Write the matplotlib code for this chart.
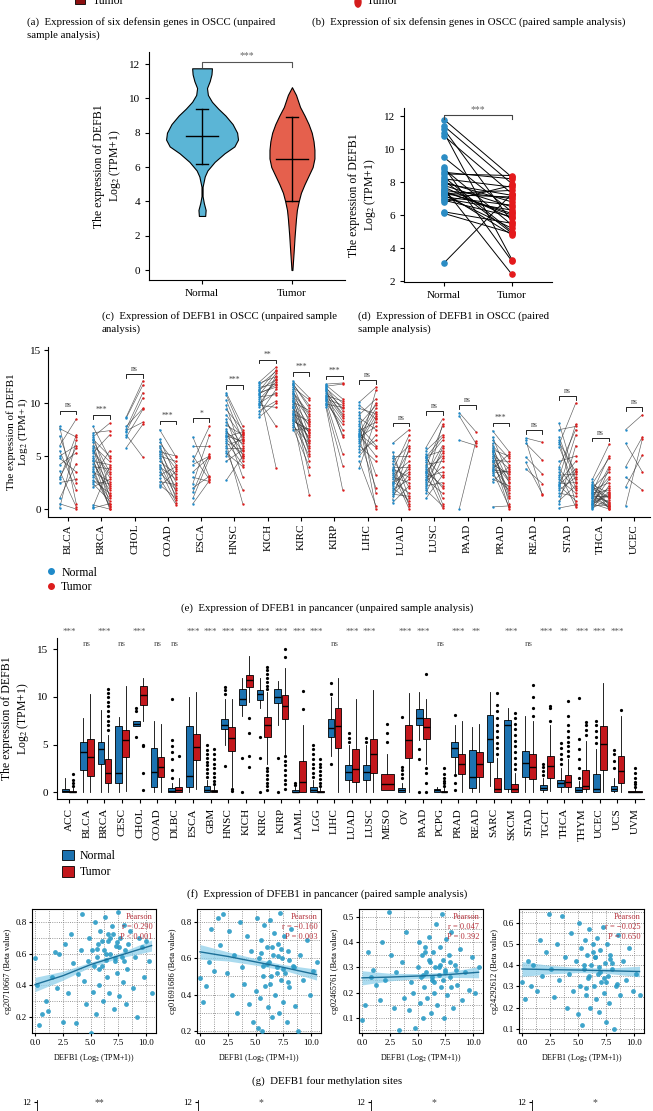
import matplotlib
matplotlib.use("Agg")
import matplotlib.pyplot as plt
from matplotlib.patches import Patch, Rectangle
from matplotlib.lines import Line2D
from matplotlib.ticker import AutoMinorLocator

plt.rcParams['font.family'] = ['Liberation Serif', 'DejaVu Serif']
plt.rcParams['mathtext.fontset'] = 'stix'
plt.rcParams['axes.linewidth'] = 0.8

# ---------------- data ----------------
# (c) violin outline: y value and half width
vio_y_normal = [3.15, 3.5, 3.9, 4.3, 4.85, 5.45, 5.8, 6.3, 6.8, 7.2, 7.6, 8.0, 8.5, 9.0, 9.4, 9.8, 10.2, 10.6, 11.0, 11.4, 11.75]
vio_w_normal = [0.035, 0.04, 0.02, 0.006, 0.006, 0.03, 0.06, 0.14, 0.25, 0.36, 0.40, 0.39, 0.34, 0.26, 0.18, 0.11, 0.065, 0.055, 0.085, 0.105, 0.11]
vio_y_tumor = [0.0, 1.0, 2.0, 3.0, 3.5, 4.0, 4.5, 5.0, 5.5, 6.0, 6.5, 7.0, 7.5, 8.0, 8.5, 9.0, 9.5, 10.2, 10.65]
vio_w_tumor = [0.005, 0.018, 0.03, 0.045, 0.055, 0.075, 0.10, 0.14, 0.185, 0.23, 0.25, 0.25, 0.24, 0.22, 0.185, 0.14, 0.09, 0.045, 0.0]
c_mean = [7.78, 6.45]
c_sd_lo = [6.18, 4.0]
c_sd_hi = [9.37, 8.9]

# (d) paired OSCC samples
d_normal = [11.8, 11.4, 11.2, 11.0, 10.8, 9.5, 8.9, 8.8, 8.5, 8.3, 8.2, 8.1, 8.0, 7.9, 7.8, 7.7,
            7.6, 7.5, 7.4, 7.35, 7.3, 7.2, 7.1, 7.0, 6.9, 6.8, 6.2, 6.1, 3.1, 8.6, 7.45, 7.25]
d_tumor = [8.3, 7.9, 5.6, 3.3, 7.3, 6.2, 3.2, 5.4, 8.4, 5.0, 7.7, 4.9, 6.8, 7.2, 6.5, 5.8,
           2.4, 7.0, 6.1, 4.8, 7.5, 5.2, 6.6, 6.3, 5.9, 7.8, 5.5, 4.9, 7.3, 8.2, 6.0, 7.1]

# (e) pancancer paired values
e_cancers = ['BLCA', 'BRCA', 'CHOL', 'COAD', 'ESCA', 'HNSC', 'KICH', 'KIRC', 'KIRP',
             'LIHC', 'LUAD', 'LUSC', 'PAAD', 'PRAD', 'READ', 'STAD', 'THCA', 'UCEC']
e_normal = [
    [7.8, 7.6, 6.9, 6.0, 5.0, 4.8, 3.6, 3.0, 2.8, 2.5, 1.0, 0.5, 0.1, 5.5, 4.2],
    [7.8, 7.2, 7.0, 6.8, 6.5, 6.3, 6.0, 5.8, 5.5, 5.3, 5.0, 4.8, 4.5, 4.3, 4.0, 3.8, 3.5, 3.2, 3.0, 2.7, 2.4, 2.1, 0.4, 0.2, 0.1, 6.6, 5.6, 4.6, 3.6, 2.6],
    [8.7, 8.6, 7.8, 7.6, 7.4, 7.3, 7.0, 6.8, 5.8],
    [7.5, 6.6, 6.3, 6.0, 5.8, 5.5, 5.2, 5.0, 4.8, 4.5, 4.2, 4.0, 3.8, 3.5, 3.2, 2.9, 2.6, 2.3, 2.1, 5.4],
    [6.8, 6.0, 5.0, 4.5, 4.2, 3.5, 3.0, 2.4, 2.0, 1.6, 1.0, 0.5],
    [11.0, 10.8, 10.3, 9.8, 9.4, 8.9, 8.5, 8.2, 7.9, 7.6, 7.4, 7.2, 7.0, 6.8, 6.6, 6.4, 6.2, 6.0, 5.8, 5.5, 5.3, 5.0, 4.5, 2.7, 6.9],
    [12.0, 11.9, 11.7, 11.5, 11.3, 11.1, 11.0, 10.8, 10.6, 10.4, 10.2, 10.0, 9.8, 9.6, 9.3, 9.0, 8.7, 11.2, 10.9, 9.9],
    [12.1, 11.9, 11.7, 11.5, 11.3, 11.1, 10.9, 10.7, 10.5, 10.3, 10.1, 9.9, 9.7, 9.5, 9.3, 9.1, 8.9, 8.7, 8.5, 8.3, 8.1, 7.9, 7.7, 7.5, 11.8, 11.0, 10.2, 9.6, 9.0, 8.4],
    [11.8, 11.7, 11.6, 11.4, 11.2, 11.0, 10.8, 10.6, 10.4, 10.2, 10.0, 9.8, 9.6, 11.5, 11.1, 10.7, 10.3, 9.9, 11.3, 10.5],
    [10.1, 9.8, 9.5, 9.2, 8.9, 8.6, 8.3, 8.0, 7.8, 7.6, 7.4, 7.2, 7.0, 6.8, 6.6, 6.4, 6.2, 6.0, 5.7, 5.4, 5.0, 4.5, 3.9, 7.1, 6.9],
    [6.2, 5.4, 5.0, 4.8, 4.5, 4.3, 4.0, 3.8, 3.6, 3.4, 3.2, 3.0, 2.8, 2.6, 2.4, 2.2, 2.0, 1.8, 1.6, 1.4, 1.2, 0.9, 0.6, 3.7, 2.5],
    [5.8, 5.5, 5.2, 5.0, 4.8, 4.6, 4.4, 4.2, 4.0, 3.8, 3.6, 3.4, 3.2, 3.0, 2.8, 2.6, 2.4, 2.2, 2.0, 1.8, 1.5, 1.0, 4.9, 3.5, 2.7],
    [9.1, 8.8, 6.5, 0.0],
    [7.4, 6.8, 6.5, 6.2, 6.0, 5.8, 5.6, 5.4, 5.2, 5.0, 4.8, 4.6, 4.4, 4.2, 4.0, 3.8, 3.6, 3.4, 3.2, 2.8, 2.6, 0.2, 5.5, 4.5, 3.7],
    [6.7, 6.2, 4.9, 4.4, 3.8, 6.5],
    [8.1, 7.5, 6.5, 6.3, 6.1, 5.9, 4.5, 4.0, 3.5, 3.2, 3.0, 2.8, 2.6, 2.4, 2.2, 2.0, 1.8, 1.5, 1.2, 0.8, 0.5, 0.1, 6.8, 3.8, 2.3],
    [2.8, 2.6, 2.4, 2.3, 2.2, 2.0, 1.9, 1.8, 1.7, 1.6, 1.5, 1.4, 1.3, 1.2, 1.1, 1.0, 0.9, 0.8, 0.7, 0.6, 0.5, 0.4, 0.3, 0.2, 0.1, 0.0, 2.1, 1.5, 1.0, 0.5],
    [7.5, 6.2, 4.0, 3.0, 2.1, 0.3],
]
e_tumor = [
    [0.5, 6.8, 2.5, 8.5, 6.0, 3.5, 0.2, 5.8, 7.0, 2.8, 4.3, 0.0, 6.5, 1.8, 5.3],
    [4.8, 7.4, 2.0, 8.1, 3.5, 1.2, 4.5, 0.5, 3.0, 7.0, 2.2, 0.0, 4.2, 1.8, 3.8, 0.3, 2.6, 1.0, 5.5, 1.5, 0.8, 2.8, 0.0, 4.0, 0.5, 5.0, 3.3, 1.3, 0.2, 2.4],
    [12.1, 11.7, 9.5, 11.0, 8.2, 10.5, 4.9, 9.4, 8.0],
    [4.9, 3.0, 4.2, 1.5, 3.8, 2.5, 0.9, 4.5, 2.0, 3.3, 1.2, 2.8, 0.6, 1.8, 4.0, 0.4, 2.3, 1.0, 3.6, 5.0],
    [3.0, 6.0, 2.8, 7.8, 5.0, 4.9, 2.6, 7.0, 3.1, 5.2, 4.8, 2.7],
    [7.8, 7.2, 6.5, 5.0, 7.5, 6.8, 4.5, 6.0, 7.0, 3.0, 5.5, 6.2, 4.8, 7.3, 5.2, 4.2, 0.5, 6.6, 5.8, 1.8, 4.0, 7.1, 5.6, 5.0, 6.4],
    [13.4, 12.5, 13.0, 11.8, 12.2, 3.9, 11.5, 12.8, 10.8, 12.0, 7.8, 11.0, 9.6, 12.6, 10.2, 11.3, 10.0, 13.1, 11.7, 12.3],
    [10.5, 9.5, 8.2, 10.3, 7.0, 9.0, 6.0, 8.5, 5.2, 7.8, 9.3, 3.2, 6.5, 8.0, 4.5, 7.2, 5.8, 1.3, 6.8, 7.5, 5.0, 6.2, 4.0, 7.6, 9.8, 8.8, 6.4, 5.5, 8.3, 7.3],
    [11.9, 10.4, 11.8, 10.0, 9.5, 9.0, 8.6, 7.0, 9.8, 5.2, 8.0, 4.1, 1.8, 9.3, 8.8, 10.2, 7.5, 9.6, 6.8, 8.3],
    [11.5, 8.5, 9.0, 1.5, 10.4, 7.5, 0.0, 9.8, 6.0, 3.2, 8.2, 10.0, 5.0, 7.8, 2.0, 9.2, 8.8, 4.5, 11.2, 6.5, 7.0, 0.3, 8.6, 5.8, 9.5],
    [7.5, 1.0, 5.0, 2.0, 6.0, 0.3, 4.0, 3.0, 7.0, 0.0, 4.5, 2.5, 5.5, 1.5, 3.5, 6.5, 0.8, 2.8, 4.2, 1.2, 3.3, 5.8, 2.2, 0.5, 3.8],
    [8.5, 7.0, 1.0, 5.5, 3.0, 6.5, 0.5, 4.5, 7.8, 2.0, 5.0, 0.1, 6.0, 3.5, 1.5, 4.0, 8.0, 2.5, 5.8, 0.3, 4.8, 3.2, 6.8, 2.2, 5.3],
    [7.3, 6.2, 6.0, 6.4],
    [5.4, 3.0, 4.8, 0.5, 4.2, 2.5, 5.0, 1.5, 3.8, 0.0, 2.8, 4.5, 1.0, 3.3, 2.0, 5.2, 0.2, 3.6, 1.8, 2.2, 4.0, 0.3, 1.2, 2.6, 3.5],
    [6.3, 4.6, 3.3, 1.4, 2.4, 1.3],
    [2.8, 7.8, 0.5, 3.5, 10.0, 2.0, 5.0, 7.5, 0.2, 3.3, 8.0, 1.5, 4.5, 2.5, 0.8, 7.0, 3.0, 1.2, 3.6, 2.2, 6.0, 0.4, 2.6, 1.8, 3.8],
    [6.1, 0.3, 4.8, 1.5, 0.0, 3.5, 1.0, 2.5, 0.5, 5.0, 1.8, 0.1, 3.0, 1.2, 0.7, 4.0, 2.0, 0.2, 1.4, 2.8, 0.0, 1.6, 0.4, 3.8, 0.9, 2.2, 1.1, 0.6, 0.3, 1.3],
    [8.9, 3.5, 6.8, 1.8, 5.1, 6.6],
]
e_bracket_y = [9.3, 8.85, 12.75, 8.35, 8.55, 11.7, 14.1, 12.95, 12.6, 12.15, 8.15, 9.25, 9.8, 8.15, 7.45, 10.65, 6.75, 9.6]
e_sig = ['ns', '***', 'ns', '***', '*', '***', '**', '***', '***', 'ns', 'ns', 'ns', 'ns', '***', 'ns', 'ns', 'ns', 'ns']

# (f) pancancer box statistics (lo whisker, q1, median, q3, hi whisker)
f_cancers = ['ACC', 'BLCA', 'BRCA', 'CESC', 'CHOL', 'COAD', 'DLBC', 'ESCA', 'GBM', 'HNSC', 'KICH',
             'KIRC', 'KIRP', 'LAML', 'LGG', 'LIHC', 'LUAD', 'LUSC', 'MESO', 'OV', 'PAAD', 'PCPG',
             'PRAD', 'READ', 'SARC', 'SKCM', 'STAD', 'TGCT', 'THCA', 'THYM', 'UCEC', 'UCS', 'UVM']
f_normal_box = [
    (0, 0.05, 0.15, 0.35, 1.5), (0, 2.3, 4.2, 5.3, 7.8), (0, 3.0, 4.5, 5.3, 8.6), (0, 1.0, 2.0, 6.9, 7.9),
    (6.9, 6.9, 7.2, 7.5, 7.5), (0, 0.5, 2.1, 4.6, 7.5), (0, 0.0, 0.15, 0.45, 1.0), (0, 0.5, 1.7, 6.9, 10.0),
    (0, 0.0, 0.2, 0.6, 1.3), (5.0, 6.6, 7.0, 7.7, 9.8), (8.0, 9.2, 9.8, 10.8, 12.0), (8.8, 9.7, 10.3, 10.7, 12.0),
    (7.0, 9.4, 10.0, 10.8, 11.7), (0, 0.0, 0.05, 0.25, 0.5), (0, 0.0, 0.2, 0.5, 1.3), (3.8, 5.8, 6.7, 7.7, 10.0),
    (0, 1.3, 2.1, 2.8, 5.0), (0, 1.3, 2.1, 2.8, 5.0), None, (0, 0.0, 0.2, 0.4, 1.0),
    (5.5, 7.0, 7.8, 8.7, 10.5), (0, 0.0, 0.2, 0.35, 0.5), (2.0, 3.7, 4.6, 5.3, 7.0), (0, 0.4, 1.6, 4.4, 6.8),
    (0.6, 3.2, 5.6, 8.1, 10.5), (0, 0.35, 7.1, 7.6, 8.8), (0, 1.6, 3.1, 4.3, 8.0), (0, 0.2, 0.45, 0.7, 1.5),
    (0, 0.5, 1.0, 1.3, 2.5), (0, 0.0, 0.25, 0.5, 1.2), (0, 0.05, 0.35, 1.9, 4.5), (0, 0.15, 0.35, 0.65, 1.5), None]
f_normal_out = [
    [], [], [], [], [8.8, 8.5, 5.8], [], [1.5, 2.3, 3.5, 4.2, 4.8, 5.5, 9.8], [],
    [1.6, 2.0, 2.4, 2.8, 3.2, 3.6, 4.0, 4.4, 5.0], [10.3, 10.7, 11.0, 2.7], [3.6, 0.0], [5.8, 3.6, 0.0],
    [3.6, 0.0], [0.7, 0.9], [1.6, 2.0, 2.5, 3.0, 3.5, 4.0, 4.5, 5.0], [11.5, 10.3, 3.0],
    [5.3, 5.7, 6.2], [5.3, 5.7], [], [1.5, 1.9, 2.3, 2.6, 7.9], [4.5, 3.5, 0.0], [],
    [8.1, 1.8, 1.0, 0.2], [], [], [], [], [1.8, 2.2, 2.6, 3.0], [3.0, 3.5, 4.0, 4.6, 5.2],
    [1.5, 2.5, 3.5, 4.5, 5.6, 9.9], [5.2, 5.8, 6.4, 7.0, 7.5], [2.5, 3.3, 4.0, 4.4], []]
f_tumor_box = [
    (0, 0.0, 0.05, 0.15, 0.4), (0, 1.7, 3.7, 5.6, 10.3), (0, 0.9, 2.0, 3.5, 6.0), (0.1, 3.7, 5.5, 6.5, 11.1),
    (7.5, 9.2, 10.2, 11.2, 12.0), (0, 1.6, 2.6, 3.7, 7.2), (0, 0.05, 0.2, 0.5, 1.5), (0.3, 3.4, 4.7, 6.1, 10.5),
    (0, 0.0, 0.1, 0.25, 0.6), (0.5, 4.3, 5.7, 6.8, 9.8), (9.5, 11.0, 11.8, 12.3, 14.3), (3.0, 5.8, 7.0, 7.9, 10.5),
    (4.0, 7.7, 9.1, 10.2, 13.0), (0, 0.0, 1.05, 3.3, 7.0), (0, 0.0, 0.05, 0.15, 0.4), (0, 4.6, 6.9, 8.8, 12.0),
    (0, 1.05, 2.4, 4.5, 9.8), (0, 2.0, 4.0, 5.6, 10.7), (0.2, 0.2, 0.8, 1.9, 4.0), (0, 3.6, 5.5, 7.1, 10.4),
    (3.0, 5.6, 6.8, 7.8, 9.8), (0, 0.0, 0.05, 0.15, 0.4), (0, 1.9, 3.0, 4.0, 7.5), (0, 1.6, 2.9, 4.2, 7.2),
    (0, 0.0, 0.35, 1.5, 3.6), (0, 0.05, 0.3, 0.8, 2.0), (0, 1.4, 2.6, 4.0, 7.5), (0.1, 1.5, 2.7, 3.8, 7.0),
    (0, 0.5, 1.1, 1.8, 3.5), (0, 0.3, 0.65, 2.35, 5.4), (0, 2.35, 5.1, 6.9, 11.5), (0, 0.95, 2.25, 3.8, 8.0),
    (0, 0.0, 0.05, 0.15, 0.4)]
f_tumor_out = [
    [0.6, 0.9, 1.3, 1.9], [], [6.5, 7.0, 7.5, 8.0, 8.5, 9.0, 9.5, 10.0, 10.4, 10.8], [],
    [5.0, 4.8, 2.0, 0.2], [], [3.8], [], [0.8, 1.2, 1.6, 2.0, 2.5, 3.0, 3.5, 4.0, 4.5], [0.1, 0.3],
    [7.8, 6.2, 3.8, 2.6], [10.8, 11.2, 11.6, 12.0, 12.4, 12.8, 13.2, 0.2, 0.6, 1.0, 1.4, 1.8, 2.2, 2.5],
    [14.2, 15.0, 0.3, 0.8, 1.3, 1.8, 2.3, 2.8, 3.3, 3.8], [8.7, 10.6], [0.6, 1.0, 1.4, 1.8, 2.2, 2.6, 3.0, 3.5],
    [], [], [], [5.3, 6.2, 7.2], [], [12.4, 2.5, 2.0, 1.0, 0.0], [0.6, 0.9, 1.2, 1.5, 1.9, 2.5], [], [],
    [4.0, 4.6, 5.2, 5.8, 6.4, 7.0, 7.8, 8.5, 9.2, 10.4], [2.4, 3.0, 3.6, 4.2, 4.8, 5.4, 6.0, 6.6, 7.2, 7.8, 8.3],
    [8.0, 8.8, 10.0, 11.3], [7.5, 8.8, 9.0], [3.8, 4.3, 4.8, 5.3, 5.8, 6.4, 7.0, 8.0, 9.6], [6.0, 6.5, 7.0, 7.4],
    [], [8.6], [0.5, 0.8, 1.1, 1.5, 2.0, 2.5]]
f_sig = ['***', 'ns', '***', 'ns', '***', 'ns', 'ns', '***', '***', '***', '***', '***', '***', '***', '***',
         'ns', '***', '***', '', '***', '***', 'ns', '***', '**', '', '***', 'ns', '***', '**', '***', '***', '***', '']

# (g) methylation sites vs DEFB1
g_sites = ['cg20710667', 'cg01691686', 'cg02465761', 'cg24292612']
g_r = ['0.290', '\u22120.160', '0.047', '\u22120.025']
g_p = ['< 0.001', '= 0.003', '= 0.392', '= 0.650']
s1_x = [0.0, 0.2, 0.4, 0.6, 1.0, 1.2, 1.5, 1.8, 2.0, 2.2, 2.5, 2.7, 3.0, 3.2, 3.4, 3.7, 3.9, 4.1, 4.2, 4.4,
        4.6, 4.8, 4.9, 5.0, 5.1, 5.2, 5.3, 5.4, 5.5, 5.6, 5.7, 5.8, 5.9, 6.0, 6.1, 6.2, 6.3, 6.4, 6.5, 6.6,
        6.7, 6.8, 6.9, 7.0, 7.1, 7.2, 7.3, 7.4, 7.5, 7.6, 7.7, 7.8, 7.9, 8.0, 8.1, 8.2, 8.3, 8.4, 8.6, 8.8,
        9.0, 9.2, 9.4, 9.6, 9.8, 10.0, 10.3, 10.5, 5.6, 6.0, 6.4, 6.8, 7.2, 7.6, 8.0, 5.8, 6.6, 7.4]
s1_y = [0.57, 0.40, 0.15, 0.22, 0.30, 0.24, 0.45, 0.61, 0.38, 0.60, 0.17, 0.66, 0.35, 0.72, 0.54, 0.16, 0.47, 0.62, 0.85, 0.43,
        0.28, 0.55, 0.70, 0.10, 0.62, 0.36, 0.52, 0.80, 0.22, 0.58, 0.66, 0.40, 0.74, 0.52, 0.30, 0.62, 0.83, 0.56, 0.45, 0.68,
        0.35, 0.60, 0.77, 0.72, 0.25, 0.55, 0.65, 0.48, 0.86, 0.33, 0.70, 0.58, 0.42, 0.78, 0.62, 0.28, 0.50, 0.66, 0.74, 0.38,
        0.58, 0.20, 0.70, 0.64, 0.45, 0.68, 0.55, 0.35, 0.63, 0.68, 0.60, 0.70, 0.57, 0.64, 0.55, 0.50, 0.72, 0.67]
s2_x = [0.0, 0.3, 0.5, 0.8, 1.0, 1.3, 1.6, 1.8, 2.1, 2.4, 2.6, 2.9, 3.1, 3.3, 3.6, 3.8, 4.0, 4.2, 4.4, 4.6,
        4.8, 5.0, 5.1, 5.2, 5.3, 5.4, 5.5, 5.6, 5.7, 5.8, 5.9, 6.0, 6.1, 6.2, 6.3, 6.4, 6.5, 6.6, 6.7, 6.8,
        6.9, 7.0, 7.1, 7.2, 7.3, 7.4, 7.5, 7.6, 7.7, 7.8, 7.9, 8.0, 8.2, 8.4, 8.6, 8.8, 9.0, 9.3, 9.6, 9.9,
        10.2, 10.5, 5.5, 6.0, 6.5, 7.0, 7.5, 8.0, 5.7, 6.3, 6.9, 7.3, 7.9, 8.5]
s2_y = [0.49, 0.36, 0.45, 0.58, 0.76, 0.53, 0.82, 0.67, 0.84, 0.52, 0.75, 0.40, 0.62, 0.30, 0.80, 0.55, 0.46, 0.72, 0.35, 0.64,
        0.25, 0.42, 0.82, 0.22, 0.60, 0.38, 0.70, 0.20, 0.56, 0.78, 0.45, 0.66, 0.33, 0.58, 0.81, 0.50, 0.28, 0.62, 0.74, 0.40,
        0.55, 0.68, 0.30, 0.85, 0.48, 0.60, 0.36, 0.72, 0.52, 0.25, 0.64, 0.44, 0.76, 0.56, 0.34, 0.20, 0.62, 0.48, 0.70, 0.40,
        0.53, 0.58, 0.63, 0.57, 0.66, 0.61, 0.54, 0.59, 0.50, 0.46, 0.52, 0.65, 0.47, 0.55]
s3_y = [0.09, 0.15, 0.36, 0.26, 0.29, 0.23, 0.17, 0.40, 0.25, 0.52, 0.35, 0.14, 0.28, 0.05, 0.32, 0.18, 0.44, 0.13, 0.24, 0.20,
        0.06, 0.30, 0.40, 0.16, 0.26, 0.35, 0.10, 0.22, 0.38, 0.28, 0.18, 0.42, 0.32, 0.12, 0.25, 0.36, 0.20, 0.30, 0.47, 0.15,
        0.27, 0.38, 0.22, 0.51, 0.33, 0.10, 0.29, 0.41, 0.19, 0.35, 0.26, 0.44, 0.14, 0.31, 0.23, 0.37, 0.17, 0.28, 0.21, 0.34,
        0.20, 0.30, 0.27, 0.33, 0.24, 0.31, 0.28, 0.22, 0.36, 0.26, 0.30, 0.25, 0.32, 0.29]
s4_y = [0.32, 0.24, 0.42, 0.30, 0.40, 0.28, 0.52, 0.35, 0.46, 0.64, 0.38, 0.25, 0.50, 0.33, 0.63, 0.44, 0.20, 0.36, 0.55, 0.28,
        0.42, 0.17, 0.60, 0.30, 0.48, 0.12, 0.38, 0.52, 0.26, 0.45, 0.34, 0.57, 0.20, 0.40, 0.50, 0.30, 0.44, 0.24, 0.53, 0.36,
        0.18, 0.47, 0.32, 0.58, 0.27, 0.41, 0.13, 0.50, 0.35, 0.22, 0.45, 0.38, 0.10, 0.30, 0.54, 0.26, 0.42, 0.33, 0.48, 0.28,
        0.36, 0.26, 0.40, 0.35, 0.44, 0.37, 0.32, 0.41, 0.29, 0.46, 0.39, 0.34, 0.43, 0.31]
fit_x = [0, 2.5, 5, 7.5, 10.5]
fit_y = [[0.405, 0.46, 0.53, 0.585, 0.65], [0.635, 0.61, 0.58, 0.55, 0.51],
         [0.258, 0.261, 0.265, 0.27, 0.28], [0.382, 0.379, 0.377, 0.374, 0.37]]
fit_band = [[0.045, 0.028, 0.015, 0.015, 0.035], [0.04, 0.025, 0.018, 0.015, 0.03],
            [0.028, 0.015, 0.01, 0.01, 0.022], [0.035, 0.02, 0.012, 0.012, 0.025]]
g_ylim = [(0.1, 0.88), (0.19, 0.87), (0.04, 0.53), (0.08, 0.665)]
g_yticks = [[0.2, 0.4, 0.6, 0.8], [0.2, 0.4, 0.6, 0.8], [0.1, 0.2, 0.3, 0.4, 0.5], [0.1, 0.2, 0.3, 0.4, 0.5, 0.6]]
bottom_sig = ['**', '*', '*', '*']

# ---------------- figure ----------------
W, H = 653, 1111
fig = plt.figure(figsize=(W / 100, H / 100), dpi=100)


def rect(left, top, width, height):
    return [left / W, 1 - (top + height) / H, width / W, height / H]


def ftext(x, y, s, **kw):
    fig.text(x / W, 1 - y / H, s, **kw)


cap = dict(fontsize=7.8, va='center')
ylab = 'The expression of DEFB1\nLog$_2$ (TPM+1)'

# remnants of panels (a) and (b)
fig.patches.append(Rectangle((75 / W, 1 - 4 / H), 10 / W, 10 / H, transform=fig.transFigure,
                             facecolor='#8b1010', edgecolor='black', lw=0.6))
ftext(93, 1, 'Tumor', fontsize=8.5, va='center')
fig.patches.append(plt.Circle((358 / W, 1 - 2 / H), 3 / W, transform=fig.transFigure, color='#d41c1c'))
ftext(367, 1, 'Tumor', fontsize=8.5, va='center')
ftext(27, 22, '(a)  Expression of six defensin genes in OSCC (unpaired', **cap)
ftext(27, 35, 'sample analysis)', **cap)
ftext(312, 22, '(b)  Expression of six defensin genes in OSCC (paired sample analysis)', **cap)

# (c) violin
c_normal, c_tumor = '#5bb5d6', '#e5604d'
ax = fig.add_axes(rect(149, 52, 196, 228))
for pos, ys, ws, col in [(0, vio_y_normal, vio_w_normal, c_normal), (1, vio_y_tumor, vio_w_tumor, c_tumor)]:
    ax.fill_betweenx(ys, [pos - w for w in ws], [pos + w for w in ws], facecolor=col, edgecolor='black', lw=0.8)
for pos, (m, lo, hi) in enumerate(zip(c_mean, c_sd_lo, c_sd_hi)):
    ax.plot([pos, pos], [lo, hi], color='black', lw=1)
    ax.plot([pos - 0.18, pos + 0.18], [m, m], color='black', lw=1)
    for v in (lo, hi):
        ax.plot([pos - 0.07, pos + 0.07], [v, v], color='black', lw=1)
ax.plot([0, 0, 1, 1], [11.85, 12.14, 12.14, 11.85], color='#555555', lw=0.8)
ax.text(0.5, 12.2, '***', ha='center', va='bottom', fontsize=7, color='#666666')
ax.set_xlim(-0.59, 1.59)
ax.set_ylim(-0.58, 12.7)
ax.set_yticks(range(0, 13, 2))
ax.set_xticks([0, 1])
ax.set_xticklabels(['Normal', 'Tumor'], fontsize=8.5)
ax.tick_params(labelsize=8, length=3)
ax.set_ylabel(ylab, fontsize=8.5)
for s in ('top', 'right'):
    ax.spines[s].set_visible(False)
ftext(102, 316, '(c)  Expression of DEFB1 in OSCC (unpaired sample', **cap)
ftext(102, 329, 'analysis)', **cap)

# (d) paired
ax = fig.add_axes(rect(404, 108, 148, 174))
for a, b in zip(d_normal, d_tumor):
    ax.plot([0, 1], [a, b], color='black', lw=0.7, zorder=1)
ax.scatter([0] * len(d_normal), d_normal, s=14, color='#2b8cc4', zorder=2)
ax.scatter([1] * len(d_tumor), d_tumor, s=14, color='#e41a1c', zorder=2)
ax.plot([0, 0, 1, 1], [11.86, 12.06, 12.06, 11.86], color='#444444', lw=0.8)
ax.text(0.5, 12.12, '***', ha='center', va='bottom', fontsize=7, color='#666666')
ax.set_xlim(-0.59, 1.59)
ax.set_ylim(1.94, 12.5)
ax.set_yticks(range(2, 13, 2))
ax.set_xticks([0, 1])
ax.set_xticklabels(['Normal', 'Tumor'], fontsize=8.5)
ax.tick_params(labelsize=8, length=3)
ax.set_ylabel(ylab, fontsize=8.5)
for s in ('top', 'right'):
    ax.spines[s].set_visible(False)
ftext(358, 316, '(d)  Expression of DEFB1 in OSCC (paired', **cap)
ftext(358, 329, 'sample analysis)', **cap)

# (e) pancancer paired
e_blue, e_red = '#1f8ac9', '#dc1c1c'
ax = fig.add_axes(rect(48, 347, 602, 170))
for i, (nv, tv) in enumerate(zip(e_normal, e_tumor)):
    for a, b in zip(nv, tv):
        ax.plot([i - 0.25, i + 0.25], [a, b], color='#333333', lw=0.45, alpha=0.8, zorder=1)
    ax.scatter([i - 0.25] * len(nv), nv, s=3, color=e_blue, zorder=2, linewidths=0)
    ax.scatter([i + 0.25] * len(tv), tv, s=3, color=e_red, zorder=2, linewidths=0)
    yb = e_bracket_y[i]
    ax.plot([i - 0.25, i - 0.25, i + 0.25, i + 0.25], [yb - 0.35, yb, yb, yb - 0.35], color='black', lw=0.6)
    ax.text(i, yb + 0.1, e_sig[i], ha='center', va='bottom', fontsize=5.5, color='#444444')
ax.set_xlim(-0.6, 17.48)
ax.set_ylim(-0.75, 15.3)
ax.set_yticks([0, 5, 10, 15])
ax.set_xticks(range(len(e_cancers)))
ax.set_xticklabels(e_cancers, rotation=90, fontsize=8)
ax.tick_params(labelsize=8, length=3, pad=2)
ax.set_ylabel(ylab, fontsize=8, labelpad=0, linespacing=1.0)
for s in ('top', 'right'):
    ax.spines[s].set_visible(False)
fig.legend(handles=[Line2D([], [], marker='o', ls='', color=e_blue, ms=4, label='Normal'),
                    Line2D([], [], marker='o', ls='', color=e_red, ms=4, label='Tumor')],
           loc='center left', bbox_to_anchor=(40 / W, 1 - 580 / H), frameon=False, fontsize=8.5,
           handlelength=0.8, handletextpad=0.5, labelspacing=0.25, borderpad=0)
ftext(327, 608, '(e)  Expression of DFEB1 in pancancer (unpaired sample analysis)', ha='center', **cap)

# (f) pancancer boxplots
f_blue, f_red = '#1c72b0', '#c3171c'
ax = fig.add_axes(rect(57, 638, 587, 161))


def box_stats(b, out):
    lo, q1, med, q3, hi = b
    return dict(whislo=lo, q1=q1, med=med, q3=q3, whishi=hi, fliers=out)


for i in range(len(f_cancers)):
    nb, tb = f_normal_box[i], f_tumor_box[i]
    groups = []
    if nb is not None:
        groups.append((nb, f_normal_out[i], i - 0.2, 0.38, f_blue))
        groups.append((tb, f_tumor_out[i], i + 0.2, 0.38, f_red))
    else:
        groups.append((tb, f_tumor_out[i], i, 0.76, f_red))
    for b, out, pos, wd, col in groups:
        ax.bxp([box_stats(b, out)], positions=[pos], widths=wd, patch_artist=True, showcaps=False,
               boxprops=dict(facecolor=col, edgecolor='black', lw=0.6),
               medianprops=dict(color='black', lw=1.0),
               whiskerprops=dict(color='black', lw=0.6),
               flierprops=dict(marker='o', ms=1.3, mfc='black', mec='black'))
    if f_sig[i] == 'ns':
        ax.text(i, 15.6, 'ns', ha='center', va='center', fontsize=6.5, color='#555555', clip_on=False)
    elif f_sig[i]:
        ax.text(i, 16.8, f_sig[i], ha='center', va='center', fontsize=6.5, color='#555555', clip_on=False)
ax.set_xlim(-0.68, 32.5)
ax.set_ylim(-0.73, 16.2)
ax.set_yticks([0, 5, 10, 15])
ax.set_xticks(range(len(f_cancers)))
ax.set_xticklabels(f_cancers, rotation=90, fontsize=8)
ax.tick_params(labelsize=8, length=3)
ax.set_ylabel(ylab, fontsize=8.5, labelpad=4)
for s in ('top', 'right'):
    ax.spines[s].set_visible(False)
fig.legend(handles=[Patch(facecolor=f_blue, edgecolor='black', lw=0.6, label='Normal'),
                    Patch(facecolor=f_red, edgecolor='black', lw=0.6, label='Tumor')],
           loc='center left', bbox_to_anchor=(56 / W, 1 - 864 / H), frameon=False, fontsize=8.5,
           handlelength=1.0, handleheight=1.0, handletextpad=0.5, labelspacing=0.35, borderpad=0)
ftext(327, 894, '(f)  Expression of DFEB1 in pancancer (paired sample analysis)', ha='center', **cap)

# (g) methylation scatter plots
g_left = [32, 197, 359, 519]
g_width = [124, 124, 124, 125]
g_x = [s1_x, s2_x, s2_x, s2_x]
g_y = [s1_y, s2_y, s3_y, s4_y]
for k in range(4):
    ax = fig.add_axes(rect(g_left[k], 909, g_width[k], 124))
    ax.fill_between(fit_x, [m - b for m, b in zip(fit_y[k], fit_band[k])],
                    [m + b for m, b in zip(fit_y[k], fit_band[k])], color='#8fd0ea', alpha=0.75, lw=0, zorder=2)
    xs, ys = zip(*list(zip(g_x[k], g_y[k])))
    ax.scatter(xs, ys, s=12, color='#2a9bc6', alpha=0.9, linewidths=0, zorder=3)
    ax.plot(fit_x, fit_y[k], color='#1b6f98', lw=1.0, zorder=4)
    ax.set_xlim(-0.27, 10.9)
    ax.set_ylim(*g_ylim[k])
    ax.set_xticks([0, 2.5, 5, 7.5, 10])
    ax.set_xticklabels(['0.0', '2.5', '5.0', '7.5', '10.0'])
    ax.set_yticks(g_yticks[k])
    ax.set_yticklabels([f'{v:.1f}' for v in g_yticks[k]])
    ax.xaxis.set_minor_locator(AutoMinorLocator(2))
    ax.yaxis.set_minor_locator(AutoMinorLocator(2))
    ax.grid(True, which='both', ls=':', lw=0.6, color='#777777', zorder=0)
    ax.set_axisbelow(True)
    ax.tick_params(labelsize=6.5, length=2, pad=2)
    ax.tick_params(which='minor', length=0)
    ax.set_ylabel(f'{g_sites[k]} (Beta value)', fontsize=6, labelpad=2)
    ax.set_xlabel('DEFB1 (Log$_2$ (TPM+1))', fontsize=5.8, labelpad=4)
    ax.text(0.97, 0.97, f'Pearson\nr = {g_r[k]}\nP {g_p[k]}', transform=ax.transAxes, ha='right', va='top',
            fontsize=6, color='#b5323c', linespacing=1.35, zorder=5)
ftext(327, 1081, '(g)  DEFB1 four methylation sites', ha='center', **cap)

# next row (cut off at the bottom of the page)
b_left = [37, 198, 371, 532]
for k in range(4):
    ax = fig.add_axes(rect(b_left[k], 1100, 125, 100))
    ax.set_ylim(0, 12.2)
    ax.set_xlim(0, 1)
    ax.set_yticks([12])
    ax.set_xticks([])
    ax.tick_params(labelsize=6.5, length=2.5, pad=2)
    for s in ('top', 'right', 'bottom'):
        ax.spines[s].set_visible(False)
    ax.spines['left'].set_linewidth(0.6)
    ax.text(0.5, 11.9, bottom_sig[k], transform=ax.get_yaxis_transform(), ha='center', va='center',
            fontsize=7, color='#444444', clip_on=False)

fig.savefig('out.png', dpi=100)
